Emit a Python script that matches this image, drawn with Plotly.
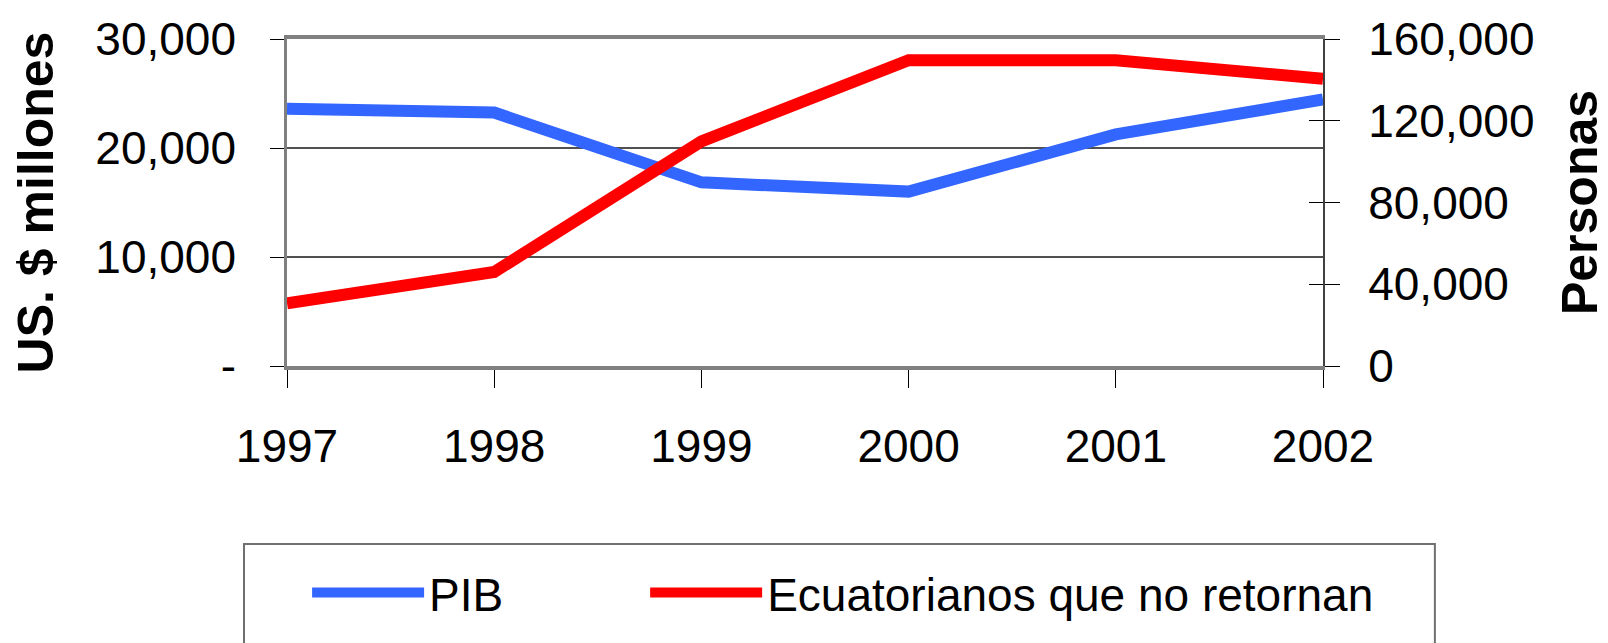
import plotly.graph_objects as go

years = [1997, 1998, 1999, 2000, 2001, 2002]
pib = [23600, 23250, 16850, 16000, 21250, 24450]
no_retornan = [30700, 46000, 109900, 149600, 149600, 140500]

left_ticks = [0, 10000, 20000, 30000]
left_text = ["-", "10,000", "20,000", "30,000"]
right_ticks = [0, 40000, 80000, 120000, 160000]
right_text = ["0", "40,000", "80,000", "120,000", "160,000"]

FONT = "Liberation Sans, Arial, sans-serif"

fig = go.Figure()
fig.add_trace(go.Scatter(x=years, y=pib, name="PIB", mode="lines",
                         line=dict(color="#3366FF", width=12), yaxis="y", legend="legend"))
fig.add_trace(go.Scatter(x=years, y=no_retornan, name="Ecuatorianos que no retornan", mode="lines",
                         line=dict(color="#FF0000", width=12), yaxis="y2", legend="legend2"))
fig.add_trace(go.Scatter(x=[years[0]], y=[0], yaxis="y3", showlegend=False, hoverinfo="skip",
                         mode="markers", marker=dict(opacity=0)))

legend_common = dict(orientation="h", xanchor="left", yanchor="top",
                     font=dict(family=FONT, size=46, color="black"),
                     itemwidth=112, bgcolor="rgba(0,0,0,0)", borderwidth=0)

fig.update_layout(
    width=1600, height=635,
    margin=dict(l=279, r=285, t=31, b=277, autoexpand=False),
    paper_bgcolor="white", plot_bgcolor="white",
    font=dict(family=FONT, size=46, color="black"),
    showlegend=True,
    legend=dict(x=0.0194, y=-0.5815, **legend_common),
    legend2=dict(x=0.3457, y=-0.5815, **legend_common),
    xaxis=dict(range=[1997, 2002], tickvals=years, ticktext=[str(y) for y in years],
               showgrid=False, showline=True, linecolor="#808080", linewidth=3.5, mirror=True,
               ticks="outside", ticklen=18, tickcolor="#000000", tickwidth=1,
               ticklabelstandoff=19, zeroline=False, automargin=False),
    yaxis=dict(range=[0, 30000], tickvals=left_ticks, ticktext=left_text,
               showgrid=True, gridcolor="#505050", gridwidth=1.5,
               showline=True, linecolor="#808080", linewidth=2.5,
               ticks="outside", ticklen=14, tickcolor="#000000", tickwidth=1,
               ticklabelstandoff=25, zeroline=False, automargin=False,
               title=dict(text="US. $ millones", font=dict(family=FONT, size=50, weight="bold"),
                          standoff=34)),
    yaxis2=dict(range=[0, 160000], tickvals=right_ticks, ticktext=right_text,
                overlaying="y", side="right", showgrid=False,
                showline=True, linecolor="#404040", linewidth=2,
                ticks="outside", ticklen=15, tickcolor="#000000", tickwidth=1,
                ticklabelstandoff=19, zeroline=False, automargin=False,
                title=dict(text="Personas", font=dict(family=FONT, size=50, weight="bold"),
                           standoff=36)),
    yaxis3=dict(range=[0, 160000], tickvals=right_ticks, showticklabels=False,
                overlaying="y", side="right", showgrid=False, showline=False,
                ticks="inside", ticklen=14, tickcolor="#000000", tickwidth=1,
                zeroline=False, automargin=False),
    shapes=[dict(type="rect", xref="paper", yref="paper",
                 x0=-0.0415, x1=1.108, y0=-0.544, y1=-1.0,
                 line=dict(color="#707070", width=2), fillcolor="rgba(0,0,0,0)", layer="below")],
)

fig.write_html("out.html")
